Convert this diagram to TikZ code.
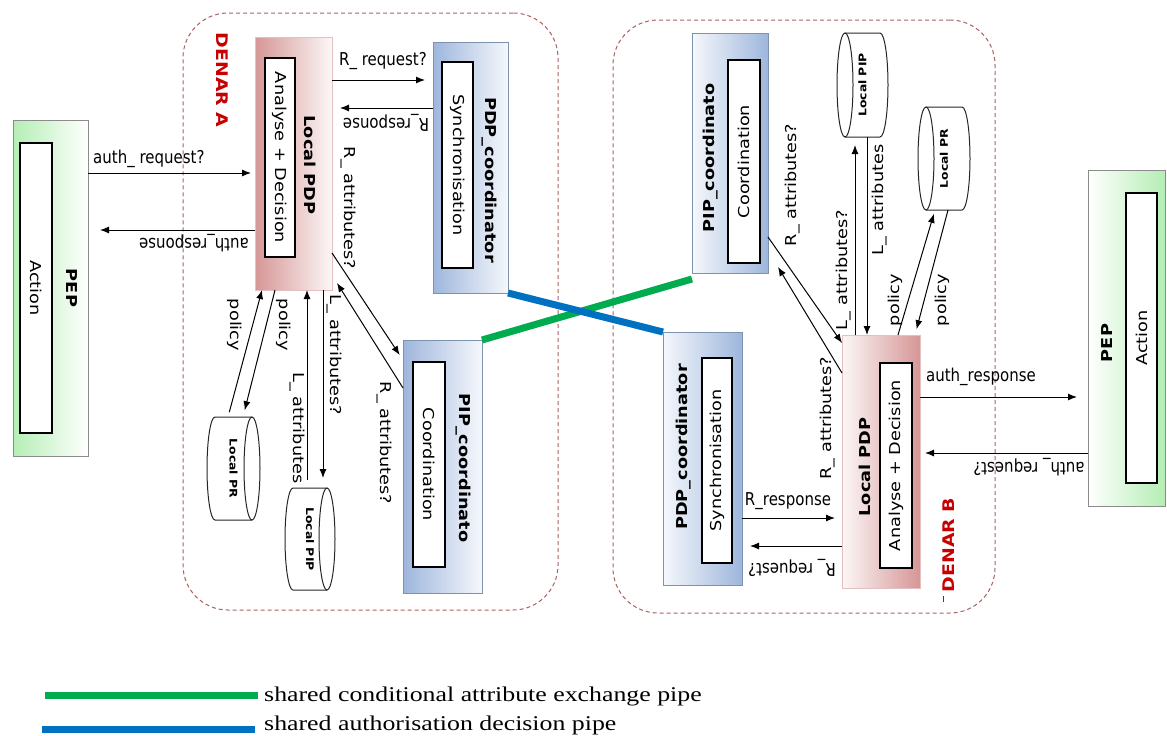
\documentclass[tikz,border=0pt]{standalone}
\usepackage{fontspec}
\usepackage{graphicx}
\setmainfont{DejaVu Sans}
\newfontfamily\legendfont{Liberation Serif}
\usetikzlibrary{arrows.meta,calc}

\definecolor{denarline}{RGB}{170,95,95}
\definecolor{denarred}{RGB}{200,0,0}
\definecolor{pdpred}{RGB}{214,150,150}
\definecolor{coordblue}{RGB}{158,182,220}
\definecolor{pepgreen}{RGB}{180,238,180}
\definecolor{pipegreen}{RGB}{0,172,78}
\definecolor{pipeblue}{RGB}{0,112,192}
\definecolor{boxedge}{RGB}{140,140,140}

% text is stretched along its own direction (vertical) or across it (horizontal)
\newcommand\sx[1]{\scalebox{1.18}[1]{#1}}
\newcommand\sy[1]{\scalebox{1}[1.18]{#1}}

\tikzset{
  box/.style={draw=boxedge, line width=0.8pt, anchor=north west, inner sep=0pt, outer sep=0pt},
  cylnode/.style={anchor=north west, inner sep=0pt, outer sep=0pt,
                  font=\fontsize{10.5}{12}\selectfont\bfseries},
  cyl/.style={draw=black!85, line width=1pt},
  innerbox/.style={draw=black, fill=white, line width=1.1pt, inner sep=0pt,
                   font=\fontsize{15}{18}\selectfont},
  txt/.style={inner sep=1pt, font=\fontsize{15}{18}\selectfont},
  btxt/.style={inner sep=1pt, font=\fontsize{15}{18}\selectfont\bfseries},
  denartxt/.style={inner sep=1pt, text=denarred, font=\fontsize{16}{19}\selectfont\bfseries},
  arr/.style={-{Latex[length=9pt,width=7pt]}, line width=1pt},
  denar/.style={draw=denarline, dash pattern=on 4pt off 3pt, line width=1pt, rounded corners=45pt},
  pipe/.style={line width=7pt},
  legend/.style={inner sep=0pt, font=\legendfont\fontsize{21}{24}\selectfont}
}

% a panel from its top-left to its bottom-right corner
\newcommand\panel[6][]{%
  \node[box,#1, minimum width={(#5-#3)*1pt}, minimum height={(#6-#4)*1pt}] (#2) at (#3,#4) {};}
% a framed white box with rotated text, given by its corners
\newcommand\innerat[7]{%
  \node[innerbox, rotate=#6, minimum width={(#5-#3)*1pt}, minimum height={(#4-#2)*1pt}]
     (#1) at ({(#2+#4)/2},{(#3+#5)/2}) {\sx{#7}};}
% a database cylinder lying on its side, end face on the right
\newcommand\dbright[2]{%
  \draw[cyl] ($(#1.north east)+(-8pt,0)$) -- ($(#1.north west)+(8pt,0)$)
     arc[start angle=90, end angle=270, x radius=8pt, y radius=#2pt]
     -- ($(#1.south east)+(-8pt,0)$);
  \draw[cyl] ($(#1.east)+(-8pt,0)$) ellipse[x radius=8pt, y radius=#2pt];}
% the same with its end face on the left
\newcommand\dbleft[2]{%
  \draw[cyl] ($(#1.north west)+(8pt,0)$) -- ($(#1.north east)+(-8pt,0)$)
     arc[start angle=90, end angle=-90, x radius=8pt, y radius=#2pt]
     -- ($(#1.south west)+(8pt,0)$);
  \draw[cyl] ($(#1.west)+(8pt,0)$) ellipse[x radius=8pt, y radius=#2pt];}

\begin{document}
\begin{tikzpicture}[x=1pt, y=-1pt]
\useasboundingbox (0,0) rectangle (1167,736);

% ---------------- domain boundaries ----------------
\panel[denar]{denarA}{183}{13}{558}{610}
\panel[denar]{denarB}{613}{20}{995}{613}

% ---------------- DENAR A ----------------
\panel[left color=pepgreen, right color=white]{pepA}{13}{120}{88}{456}
\innerat{pepAin}{20}{143}{52}{433}{-90}{Action}
\node[btxt, rotate=-90] (pepAt) at (72,288) {\sx{PEP}};

\panel[left color=pdpred, right color=white!92!pdpred, draw=pdpred!60]{pdpA}{255}{37}{332}{290}
\innerat{pdpAin}{265}{58}{295}{257}{-90}{Analyse + Decision}
\node[btxt, rotate=-90] (pdpAt) at (310,165) {\sx{Local PDP}};

\panel[left color=coordblue, right color=white!90!coordblue, draw=coordblue!80!black]{pdpcA}{433}{42}{508}{293}
\innerat{pdpcAin}{442}{62}{473}{268}{-90}{Synchronisation}
\node[btxt, rotate=-90] (pdpcAt) at (489,180) {\sx{PDP\_coordinator}};

\panel[left color=coordblue, right color=white!90!coordblue, draw=coordblue!80!black]{pipcA}{403}{340}{482}{593}
\innerat{pipcAin}{413}{362}{445}{567}{-90}{Coordination}
\node[btxt, rotate=-90] (pipcAt) at (463,468) {\sx{PIP\_coordinato}};

\node[cylnode, minimum width=53pt, minimum height=103pt] (prA) at (207,417)
  {\rotatebox{-90}{\sx{Local PR}}};
\dbright{prA}{51.5}
\node[cylnode, minimum width=50pt, minimum height=102pt] (pipA) at (285,488)
  {\rotatebox{-90}{\sx{Local PIP}}};
\dbright{pipA}{51}

\node[denartxt, rotate=-90] (denarAt) at (222,80) {\sx{DENAR A}};

% ---------------- DENAR B ----------------
\panel[left color=white, right color=pepgreen]{pepB}{1088}{170}{1165}{506}
\innerat{pepBin}{1126}{193}{1157}{483}{90}{Action}
\node[btxt, rotate=90] (pepBt) at (1107,343) {\sx{PEP}};

\panel[left color=white!92!pdpred, right color=pdpred, draw=pdpred!60]{pdpB}{842}{335}{920}{588}
\innerat{pdpBin}{880}{363}{912}{568}{90}{Analyse + Decision}
\node[btxt, rotate=90] (pdpBt) at (865,467) {\sx{Local PDP}};

\panel[left color=white!90!coordblue, right color=coordblue, draw=coordblue!80!black]{pdpcB}{663}{332}{742}{585}
\innerat{pdpcBin}{702}{358}{732}{563}{90}{Synchronisation}
\node[btxt, rotate=90] (pdpcBt) at (684,447) {\sx{PDP\_coordinator}};

\panel[left color=white!90!coordblue, right color=coordblue, draw=coordblue!80!black]{pipcB}{692}{33}{768}{273}
\innerat{pipcBin}{728}{60}{760}{263}{90}{Coordination}
\node[btxt, rotate=90] (pipcBt) at (711,158) {\sx{PIP\_coordinato}};

\node[cylnode, minimum width=51pt, minimum height=104pt] (pipB) at (837,33)
  {\rotatebox{90}{\sx{Local PIP}}};
\dbleft{pipB}{52}
\node[cylnode, minimum width=52pt, minimum height=103pt] (prB) at (918,107)
  {\rotatebox{90}{\sx{Local PR}}};
\dbleft{prB}{51.5}

\node[denartxt, rotate=90] (denarBt) at (949,545) {\sx{DENAR B}};
\draw[denarred, line width=1pt] (943,596) -- (943,602);

% ---------------- messages inside DENAR A ----------------
\draw[arr, shorten >=4pt] (pepA.east |- 0,173) -- (pdpA.west |- 0,173);
\draw[arr, shorten >=12pt] (pdpA.west |- 0,230) -- (pepA.east |- 0,230);
\draw[arr, shorten >=8pt] (pdpA.east |- 0,80) -- (pdpcA.west |- 0,80);
\draw[arr, shorten >=8pt] (pdpcA.west |- 0,108) -- (pdpA.east |- 0,108);
\draw[arr, shorten <=5pt] (prA.north -| 228,0) -- (pdpA.south -| 262,0);
\draw[arr, shorten >=7pt] (pdpA.south -| 275,0) -- (prA.north -| 243,0);
\draw[arr, shorten <=8pt] (pipA.north -| 307,0) -- (pdpA.south -| 307,0);
\draw[arr, shorten >=10pt] (pdpA.south -| 323,0) -- (pipA.north -| 323,0);
\draw[arr, shorten >=6pt] (pdpA.east |- 0,253) -- (pipcA.west |- 0,360);
\draw[arr] (pipcA.west |- 0,388) -- ($(pdpA.south east)+(5pt,7pt)$);

\node[txt, anchor=west] (l1) at (92,159) {\sy{auth\_ request?}};
\node[txt, rotate=180] (l2) at (194,243) {\sy{auth\_response}};
\node[txt] (l3) at (383,61) {\sy{R\_ request?}};
\node[txt, rotate=180] (l4) at (386,123) {\sy{R\_response}};
\node[txt, rotate=-90] (l5) at (348,208) {\sx{R\_ attributes?}};
\node[txt, rotate=-90] (l6) at (235,325) {\sx{policy}};
\node[txt, rotate=-90] (l7) at (284,325) {\sx{policy}};
\node[txt, rotate=-90] (l8) at (334,355) {\sx{L\_ attributes?}};
\node[txt, rotate=-90] (l9) at (297,428) {\sx{L\_ attributes}};
\node[txt, rotate=-90] (l10) at (384,443) {\sx{R\_ attributes?}};

% ---------------- messages inside DENAR B ----------------
\draw[arr, shorten >=7pt] (pdpcB.east |- 0,518) -- (pdpB.west |- 0,518);
\draw[arr, shorten >=8pt] (pdpB.west |- 0,546) -- (pdpcB.east |- 0,546);
\draw[arr, shorten >=11pt] (pdpB.east |- 0,397) -- (pepB.west |- 0,397);
\draw[arr, shorten >=5pt] (pepB.west |- 0,453) -- (pdpB.east |- 0,453);
\draw[arr, shorten >=8pt] (pdpB.north -| 855,0) -- (pipB.south -| 855,0);
\draw[arr] (pipB.south -| 867,0) -- (pdpB.north -| 867,0);
\draw[arr, shorten >=4pt] (pdpB.north -| 898,0) -- (prB.south -| 935,0);
\draw[arr, shorten >=6pt] (prB.south -| 948,0) -- (pdpB.north -| 915,0);
\draw[arr] (pipcB.east |- 0,237) -- (pdpB.west |- 0,343);
\draw[arr] (pdpB.west |- 0,373) -- ($(pipcB.south east)+(10pt,6pt)$);

\node[txt, rotate=90] (r1) at (793,185) {\sx{R\_ attributes?}};
\node[txt, rotate=90] (r2) at (844,270) {\sx{L\_ attributes?}};
\node[txt, rotate=90] (r3) at (880,200) {\sx{L\_ attributes}};
\node[txt, rotate=90] (r4) at (895,300) {\sx{policy}};
\node[txt, rotate=90] (r5) at (942,300) {\sx{policy}};
\node[txt, rotate=90] (r6) at (828,418) {\sx{R\_ attributes?}};
\node[txt] (r7) at (788,501) {\sy{R\_response}};
\node[txt, rotate=180] (r8) at (792,568) {\sy{R\_ request?}};
\node[txt] (r9) at (981,377) {\sy{auth\_response}};
\node[txt, rotate=180] (r10) at (1029,467) {\sy{auth\_ request?}};

% ---------------- shared pipes between the domains ----------------
\draw[pipe, pipegreen] (pipcA.north east) -- ($(pipcB.south west)+(0,-6pt)$);
\draw[pipe, pipeblue] (pdpcA.south east) -- (pdpcB.north west);

% ---------------- legend ----------------
\draw[pipe, pipegreen] (45,695) -- (258,695);
\draw[pipe, pipeblue] (42,729) -- (255,729);
\node[legend, anchor=west] (leg1) at (264,696) {\scalebox{1.23}[1]{shared conditional attribute exchange pipe}};
\node[legend, anchor=west] (leg2) at (264,725) {\scalebox{1.23}[1]{shared authorisation decision pipe}};
\end{tikzpicture}
\end{document}
